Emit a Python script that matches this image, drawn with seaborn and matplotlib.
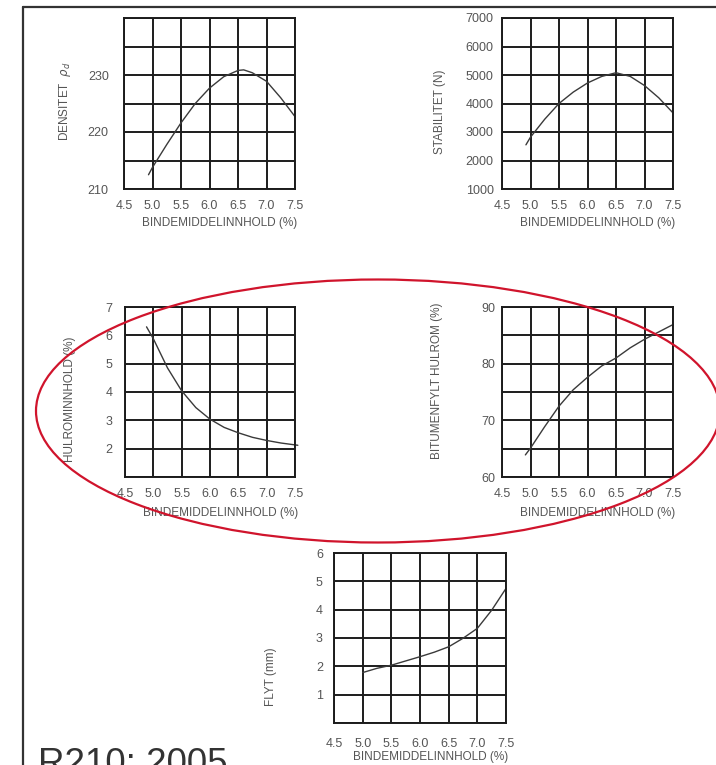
import matplotlib.pyplot as plt
import seaborn as sns
from matplotlib.patches import Ellipse
from matplotlib.lines import Line2D

# values
x_ticks = [4.5, 5.0, 5.5, 6.0, 6.5, 7.0, 7.5]
x_ticklabels = ['4.5', '5.0', '5.5', '6.0', '6.5', '7.0', '7.5']
x_label = 'BINDEMIDDELINNHOLD (%)'

densitet_x = [4.93, 5.0, 5.25, 5.5, 5.75, 6.0, 6.25, 6.5, 6.6, 6.75, 7.0, 7.25, 7.5]
densitet_y = [212.5, 213.8, 217.8, 221.6, 225.0, 227.7, 229.7, 230.8, 230.9, 230.4, 228.9, 226.0, 222.7]
densitet_ticks = [210, 215, 220, 225, 230, 235, 240]
densitet_labels = ['210', '', '220', '', '230', '', '']

stabilitet_x = [4.92, 5.0, 5.25, 5.5, 5.75, 6.0, 6.25, 6.5, 6.75, 7.0, 7.25, 7.5]
stabilitet_y = [2550, 2820, 3450, 4000, 4400, 4720, 4950, 5080, 4950, 4630, 4200, 3670]
stabilitet_ticks = [1000, 2000, 3000, 4000, 5000, 6000, 7000]
stabilitet_labels = ['1000', '2000', '3000', '4000', '5000', '6000', '7000']

hulrom_x = [4.88, 5.0, 5.25, 5.5, 5.75, 6.0, 6.25, 6.5, 6.75, 7.0, 7.25, 7.55]
hulrom_y = [6.3, 5.88, 4.85, 4.04, 3.45, 3.04, 2.75, 2.56, 2.4, 2.29, 2.2, 2.12]
hulrom_ticks = [1, 2, 3, 4, 5, 6, 7]
hulrom_labels = ['', '2', '3', '4', '5', '6', '7']

bitumen_x = [4.91, 5.0, 5.25, 5.5, 5.75, 6.0, 6.25, 6.5, 6.75, 7.0, 7.25, 7.5]
bitumen_y = [63.9, 65.1, 68.9, 72.5, 75.4, 77.6, 79.6, 81.0, 82.8, 84.3, 85.6, 86.9]
bitumen_ticks = [60, 65, 70, 75, 80, 85, 90]
bitumen_labels = ['60', '', '70', '', '80', '', '90']

flyt_x = [5.0, 5.25, 5.5, 5.75, 6.0, 6.25, 6.5, 6.75, 7.0, 7.25, 7.5]
flyt_y = [1.78, 1.93, 2.04, 2.19, 2.34, 2.5, 2.69, 2.99, 3.34, 3.98, 4.75]
flyt_ticks = [0, 1, 2, 3, 4, 5, 6]
flyt_labels = ['', '1', '2', '3', '4', '5', '6']

W, H = 716, 765
GRID = '#1c1c1c'
TXT = '#555555'

sns.set_theme(style='white')
plt.rcParams['font.family'] = ['Liberation Sans', 'DejaVu Sans']

fig = plt.figure(figsize=(W / 100, H / 100), dpi=100)


def px_rect(l, t, r, b):
    return [l / W, 1 - b / H, (r - l) / W, (b - t) / H]


def panel(rect, x, y, yticks, ylabels, ylabel, ypad, xpad, ylab_pos, xlab_y):
    ax = fig.add_axes(px_rect(*rect))
    sns.lineplot(x=x, y=y, ax=ax, color='#3a3a3a', lw=1.0, sort=False, clip_on=False)
    ax.set_xlim(4.5, 7.5)
    ax.set_ylim(yticks[0], yticks[-1])
    ax.set_xticks(x_ticks)
    ax.set_xticklabels(x_ticklabels)
    ax.set_yticks(yticks)
    ax.set_yticklabels(ylabels)
    ax.grid(True, color=GRID, lw=1.4)
    for s in ax.spines.values():
        s.set_color(GRID)
        s.set_linewidth(1.4)
    ax.tick_params(axis='both', length=0, labelsize=9, labelcolor=TXT)
    ax.tick_params(axis='x', pad=xpad)
    ax.tick_params(axis='y', pad=ypad)
    ax.set_xlabel(x_label, fontsize=8.5, color=TXT)
    ax.set_ylabel(ylabel, fontsize=8.5, color=TXT)
    ax.xaxis.set_label_coords(0.56, xlab_y)
    ax.yaxis.set_label_coords(*ylab_pos)
    return ax


panel((124, 18, 295, 189), densitet_x, densitet_y, densitet_ticks, densitet_labels,
      r'DENSITET  $\rho_d$', 11, 8, (-0.30, 0.51), -0.164)
panel((502, 18, 673, 189), stabilitet_x, stabilitet_y, stabilitet_ticks, stabilitet_labels,
      'STABILITET (N)', 6, 8, (-0.33, 0.45), -0.164)
panel((125, 307, 295, 477), hulrom_x, hulrom_y, hulrom_ticks, hulrom_labels,
      'HULROMINNHOLD (%)', 9, 8, (-0.29, 0.46), -0.176)
panel((502, 307, 673, 477), bitumen_x, bitumen_y, bitumen_ticks, bitumen_labels,
      'BITUMENFYLT HULROM (%)', 5, 8, (-0.345, 0.565), -0.176)
panel((334, 553, 506, 723), flyt_x, flyt_y, flyt_ticks, flyt_labels,
      'FLYT (mm)', 8, 11, (-0.33, 0.27), -0.165)

# slide frame
fig.add_artist(Line2D([22.5 / W, 22.5 / W], [1 - 7 / H, 0], color='#333333', lw=1.6))
fig.add_artist(Line2D([22.5 / W, 1], [1 - 7 / H, 1 - 7 / H], color='#333333', lw=1.6))

# red highlight ellipse
fig.add_artist(Ellipse((378 / W, 1 - 411 / H), 684 / W, 263 / H, transform=fig.transFigure,
                       fill=False, ec='#d0142c', lw=1.6, zorder=10))

# slide caption, cut by the bottom edge as in the original
fig.text(38 / W, 1 - 774 / H, 'R210: 2005', fontsize=26.5, color='#333333',
         va='baseline', ha='left')

fig.savefig('out.png', dpi=100)
